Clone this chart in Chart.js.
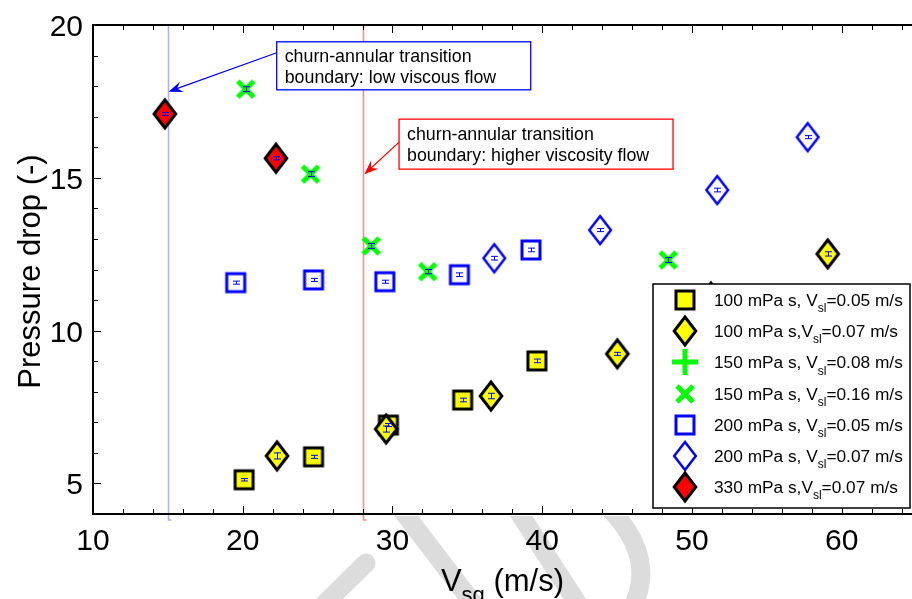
<!DOCTYPE html>
<html>
<head>
<meta charset="utf-8">
<script src="https://cdn.jsdelivr.net/npm/chart.js@4.4.0/dist/chart.umd.min.js"></script>
<style>
  html, body { margin: 0; padding: 0; background: #fff; }
  #wrap { width: 912px; height: 599px; }
</style>
</head>
<body>
<div id="wrap"><canvas id="dpChart" width="912" height="599"></canvas></div>
<script>
const xTicks = [10, 20, 30, 40, 50, 60];
const yTicks = [5, 10, 15, 20];

// 100 mPa s, Vsl = 0.05 m/s
const vsgA = [20.09, 24.73, 29.73, 34.69, 39.65];
const dpA  = [5.12, 5.87, 6.91, 7.73, 9.01];
const errA = [0.04, 0.05, 0.05, 0.06, 0.06];
// 100 mPa s, Vsl = 0.07 m/s
const vsgB = [22.29, 29.58, 36.58, 45.02, 51.27, 59.07];
const dpB  = [5.90, 6.78, 7.86, 9.24, 11.10, 12.51];
const errB = [0.10, 0.10, 0.09, 0.05, 0.06, 0.07];
// 150 mPa s, Vsl = 0.08 m/s
const vsgC = [];
const dpC  = [];
const errC = [];
// 150 mPa s, Vsl = 0.16 m/s
const vsgD = [20.20, 24.53, 28.58, 32.35, 48.42];
const dpD  = [17.90, 15.12, 12.77, 11.93, 12.31];
const errD = [0.08, 0.08, 0.08, 0.07, 0.08];
// 200 mPa s, Vsl = 0.05 m/s
const vsgE = [19.53, 24.73, 29.49, 34.47, 39.25];
const dpE  = [11.57, 11.66, 11.60, 11.83, 12.64];
const errE = [0.05, 0.05, 0.05, 0.06, 0.06];
// 200 mPa s, Vsl = 0.07 m/s
const vsgF = [36.80, 43.87, 51.69, 57.73];
const dpF  = [12.37, 13.29, 14.60, 16.33];
const errF = [0.06, 0.05, 0.06, 0.05];
// 330 mPa s, Vsl = 0.07 m/s
const vsgG = [14.80, 22.22];
const dpG  = [17.09, 15.64];
const errG = [0.05, 0.05];

const seriesLabels = [
  '100 mPa s, V_{sl}=0.05 m/s',
  '100 mPa s,V_{sl}=0.07 m/s',
  '150 mPa s, V_{sl}=0.08 m/s',
  '150 mPa s, V_{sl}=0.16 m/s',
  '200 mPa s, V_{sl}=0.05 m/s',
  '200 mPa s, V_{sl}=0.07 m/s',
  '330 mPa s,V_{sl}=0.07 m/s'
];

// transition boundaries (Vsg)
const boundaryVsg = [15, 28];

const FONT = '"Liberation Sans", Arial, Helvetica, sans-serif';

// marker sprites, matlab style
function makeMarker(kind, fill, stroke, lw) {
  const c = document.createElement('canvas');
  const sizes = { square: [24, 24], diamond: [30, 38], cross: [26, 26], plus: [32, 32] };
  c.width = sizes[kind][0];
  c.height = sizes[kind][1];
  const g = c.getContext('2d');
  const cx = c.width / 2, cy = c.height / 2;
  g.lineWidth = lw;
  g.strokeStyle = stroke;
  g.lineJoin = 'miter';
  g.beginPath();
  if (kind === 'square') {
    g.rect(cx - 9, cy - 9, 18, 18);
  } else if (kind === 'diamond') {
    g.moveTo(cx, cy - 14);
    g.lineTo(cx + 10.8, cy);
    g.lineTo(cx, cy + 14);
    g.lineTo(cx - 10.8, cy);
    g.closePath();
  } else if (kind === 'cross') {
    g.moveTo(cx - 8, cy - 8); g.lineTo(cx + 8, cy + 8);
    g.moveTo(cx + 8, cy - 8); g.lineTo(cx - 8, cy + 8);
  } else {
    g.moveTo(cx - 13, cy); g.lineTo(cx + 13, cy);
    g.moveTo(cx, cy - 13); g.lineTo(cx, cy + 13);
  }
  if (fill) { g.fillStyle = fill; g.fill(); }
  g.stroke();
  return c;
}

const markers = [
  makeMarker('square', '#ffff00', '#000000', 3),
  makeMarker('diamond', '#ffff00', '#000000', 3),
  makeMarker('plus', null, '#00ff00', 5),
  makeMarker('cross', null, '#00ff00', 5),
  makeMarker('square', null, '#0000ff', 3),
  makeMarker('diamond', null, '#0000ff', 2.5),
  makeMarker('diamond', '#ff0000', '#000000', 3)
];

const series = [
  { x: vsgA, y: dpA, e: errA },
  { x: vsgB, y: dpB, e: errB },
  { x: vsgC, y: dpC, e: errC },
  { x: vsgD, y: dpD, e: errD },
  { x: vsgE, y: dpE, e: errE },
  { x: vsgF, y: dpF, e: errF },
  { x: vsgG, y: dpG, e: errG }
];

const notes = [
  { lines: ['churn-annular transition', 'boundary: low viscous flow'], color: '#0000ff',
    boxVsg: 22.27, boxDp: 19.45, w: 254, h: 48, tailDy: 11, tipVsg: 15.05, tipDp: 17.82 },
  { lines: ['churn-annular transition', 'boundary: higher viscosity flow'], color: '#ff0000',
    boxVsg: 30.44, boxDp: 16.92, w: 274, h: 50, tailDy: 23, tipVsg: 28.13, tipDp: 15.12 }
];

// text with a V_{..} style subscript
function drawSub(ctx, str, x, y, size, align) {
  const m = str.match(/^(.*?)_\{(.*?)\}(.*)$/);
  const parts = m ? [[m[1], 0], [m[2], 1], [m[3], 0]] : [[str, 0]];
  const subSize = Math.round(size * 0.72);
  let total = 0;
  parts.forEach(p => {
    ctx.font = (p[1] ? subSize : size) + 'px ' + FONT;
    total += ctx.measureText(p[0]).width;
  });
  let cx = align === 'center' ? x - total / 2 : x;
  ctx.textAlign = 'left';
  ctx.textBaseline = 'alphabetic';
  parts.forEach(p => {
    ctx.font = (p[1] ? subSize : size) + 'px ' + FONT;
    ctx.fillText(p[0], cx, y + (p[1] ? size * 0.36 : 0));
    cx += ctx.measureText(p[0]).width;
  });
}

function arrow(ctx, x0, y0, x1, y1, color) {
  const a = Math.atan2(y1 - y0, x1 - x0);
  const L = 14, W = 5.5;
  ctx.strokeStyle = color;
  ctx.fillStyle = color;
  ctx.lineWidth = 1.2;
  ctx.beginPath();
  ctx.moveTo(x0, y0);
  ctx.lineTo(x1 - Math.cos(a) * 8, y1 - Math.sin(a) * 8);
  ctx.stroke();
  ctx.beginPath();
  ctx.moveTo(x1, y1);
  ctx.lineTo(x1 - Math.cos(a) * L - Math.sin(a) * W, y1 - Math.sin(a) * L + Math.cos(a) * W);
  ctx.lineTo(x1 - Math.cos(a) * (L - 5), y1 - Math.sin(a) * (L - 5));
  ctx.lineTo(x1 - Math.cos(a) * L + Math.sin(a) * W, y1 - Math.sin(a) * L - Math.cos(a) * W);
  ctx.closePath();
  ctx.fill();
}

// faint stamp behind the x axis labels
const stampPlugin = {
  id: 'stamp',
  beforeDraw(chart) {
    const ctx = chart.ctx;
    const a = chart.chartArea;
    ctx.save();
    ctx.fillStyle = '#fff';
    ctx.fillRect(0, 0, chart.width, chart.height);
    ctx.beginPath();
    ctx.rect(0, a.bottom + 2, chart.width, chart.height);
    ctx.clip();
    ctx.strokeStyle = '#dcdcdc';
    ctx.lineWidth = 19;
    ctx.lineCap = 'round';
    ctx.beginPath();
    ctx.moveTo(298, 630); ctx.lineTo(366, 563);
    ctx.moveTo(398, 505); ctx.lineTo(482, 615);
    ctx.moveTo(514, 505); ctx.lineTo(585, 615);
    ctx.moveTo(606, 505); ctx.quadraticCurveTo(662, 560, 628, 615);
    ctx.stroke();
    ctx.restore();
  }
};

const boundaryPlugin = {
  id: 'boundaries',
  beforeDatasetsDraw(chart) {
    const ctx = chart.ctx;
    const a = chart.chartArea;
    const xs = chart.scales.x;
    const cols = ['rgba(160,160,255,0.85)', 'rgba(255,120,120,0.85)'];
    ctx.save();
    boundaryVsg.forEach((v, i) => {
      const px = Math.round(xs.getPixelForValue(v)) + 0.5;
      ctx.strokeStyle = cols[i];
      ctx.lineWidth = 1.5;
      ctx.beginPath();
      ctx.moveTo(px, a.top);
      ctx.lineTo(px, a.bottom + 6);
      ctx.lineTo(px + 3, a.bottom + 6);
      ctx.stroke();
    });
    ctx.restore();
  }
};

const errorBarPlugin = {
  id: 'errorBars',
  afterDatasetsDraw(chart) {
    const ctx = chart.ctx;
    const ys = chart.scales.y;
    ctx.save();
    ctx.strokeStyle = '#0000ff';
    ctx.lineWidth = 1;
    series.forEach((s, di) => {
      const meta = chart.getDatasetMeta(di);
      meta.data.forEach((pt, i) => {
        const x = Math.round(pt.x) + 0.5;
        const y0 = ys.getPixelForValue(s.y[i] - s.e[i]);
        const y1 = ys.getPixelForValue(s.y[i] + s.e[i]);
        ctx.beginPath();
        ctx.moveTo(x, y0); ctx.lineTo(x, y1);
        ctx.moveTo(x - 3.5, y0); ctx.lineTo(x + 3.5, y0);
        ctx.moveTo(x - 3.5, y1); ctx.lineTo(x + 3.5, y1);
        ctx.stroke();
      });
    });
    ctx.restore();
  }
};

// box frame, inward ticks, tick labels, axis titles, notes and legend
const framePlugin = {
  id: 'frame',
  afterDraw(chart) {
    const ctx = chart.ctx;
    const a = chart.chartArea;
    const xs = chart.scales.x, ys = chart.scales.y;
    ctx.save();
    ctx.strokeStyle = '#000';
    ctx.lineWidth = 2;
    ctx.beginPath();
    ctx.moveTo(a.left, a.top); ctx.lineTo(a.right, a.top);
    ctx.moveTo(a.left, a.top - 1); ctx.lineTo(a.left, a.bottom + 1);
    ctx.moveTo(a.left - 1, a.bottom); ctx.lineTo(a.right, a.bottom);
    ctx.stroke();

    ctx.lineWidth = 1;
    ctx.beginPath();
    for (let v = xs.min; v <= xs.max + 1e-9; v += 2) {
      const px = Math.round(xs.getPixelForValue(v)) + 0.5;
      const len = xTicks.includes(Math.round(v)) ? 8 : 5;
      ctx.moveTo(px, a.bottom); ctx.lineTo(px, a.bottom - len);
      ctx.moveTo(px, a.top); ctx.lineTo(px, a.top + len);
    }
    for (let v = ys.min; v <= ys.max + 1e-9; v += 1) {
      const py = Math.round(ys.getPixelForValue(v)) + 0.5;
      const len = yTicks.includes(v) ? 8 : 5;
      ctx.moveTo(a.left, py); ctx.lineTo(a.left + len, py);
    }
    ctx.stroke();

    // tick labels
    ctx.fillStyle = '#000';
    ctx.font = '30px ' + FONT;
    ctx.textBaseline = 'alphabetic';
    ctx.textAlign = 'center';
    xTicks.forEach(v => ctx.fillText(String(v), xs.getPixelForValue(v), a.bottom + 36));
    ctx.textAlign = 'right';
    yTicks.forEach(v => ctx.fillText(String(v), a.left - 10, ys.getPixelForValue(v) + 11));

    // axis titles
    drawSub(ctx, 'V_{sg} (m/s)', (a.left + a.right) / 2, 591, 31, 'center');
    ctx.save();
    ctx.translate(40, (a.top + a.bottom) / 2 + 2);
    ctx.rotate(-Math.PI / 2);
    ctx.font = '31px ' + FONT;
    ctx.textAlign = 'center';
    ctx.textBaseline = 'alphabetic';
    ctx.fillText('Pressure drop (-)', 0, 0);
    ctx.restore();

    // annotation boxes with arrows
    notes.forEach(n => {
      const bx = xs.getPixelForValue(n.boxVsg);
      const by = ys.getPixelForValue(n.boxDp);
      ctx.fillStyle = '#fff';
      ctx.fillRect(bx, by, n.w, n.h);
      ctx.strokeStyle = n.color;
      ctx.lineWidth = 1.3;
      ctx.strokeRect(bx, by, n.w, n.h);
      ctx.fillStyle = '#000';
      ctx.font = '17.8px ' + FONT;
      ctx.textAlign = 'left';
      ctx.textBaseline = 'middle';
      ctx.fillText(n.lines[0], bx + 8, by + 15.5);
      ctx.fillText(n.lines[1], bx + 8, by + 36.5);
      arrow(ctx, bx, by + n.tailDy, xs.getPixelForValue(n.tipVsg), ys.getPixelForValue(n.tipDp), n.color);
    });

    // legend
    const L = { left: 653, top: 284, right: 910, bottom: 508 };
    ctx.fillStyle = '#fff';
    ctx.fillRect(L.left, L.top, L.right - L.left, L.bottom - L.top);
    ctx.strokeStyle = '#000';
    ctx.lineWidth = 1.5;
    ctx.strokeRect(L.left, L.top, L.right - L.left, L.bottom - L.top);
    seriesLabels.forEach((lab, i) => {
      const cy = 300 + i * 31.2;
      const m = markers[i];
      ctx.drawImage(m, Math.round(685 - m.width / 2), Math.round(cy - m.height / 2));
      ctx.fillStyle = '#000';
      drawSub(ctx, lab, 714, cy + 6, 17.3, 'left');
    });
    ctx.restore();
  }
};

const ctx = document.getElementById('dpChart');

const dpChart = new Chart(ctx, {
  type: 'scatter',
  data: {
    datasets: series.map((s, i) => ({
      label: seriesLabels[i],
      data: s.x.map((v, j) => ({ x: v, y: s.y[j] })),
      pointStyle: markers[i],
      pointRadius: 10,
      showLine: false,
      order: series.length - 1 - i
    }))
  },
  options: {
    responsive: false,
    animation: false,
    events: [],
    layout: { autoPadding: false, padding: { top: 25, right: 0, left: 0, bottom: 0 } },
    plugins: {
      legend: { display: false },
      tooltip: { enabled: false }
    },
    scales: {
      x: {
        type: 'linear',
        min: 10,
        max: 64.7,
        afterBuildTicks: s => { s.ticks = xTicks.map(v => ({ value: v })); },
        afterFit: s => { s.height = 85; },
        ticks: { display: false },
        grid: { display: false, drawTicks: false },
        border: { display: false }
      },
      y: {
        type: 'linear',
        min: 4,
        max: 20,
        afterBuildTicks: s => { s.ticks = yTicks.map(v => ({ value: v })); },
        afterFit: s => { s.width = 93; },
        ticks: { display: false },
        grid: { display: false, drawTicks: false },
        border: { display: false }
      }
    }
  },
  plugins: [stampPlugin, boundaryPlugin, errorBarPlugin, framePlugin]
});
</script>
</body>
</html>
